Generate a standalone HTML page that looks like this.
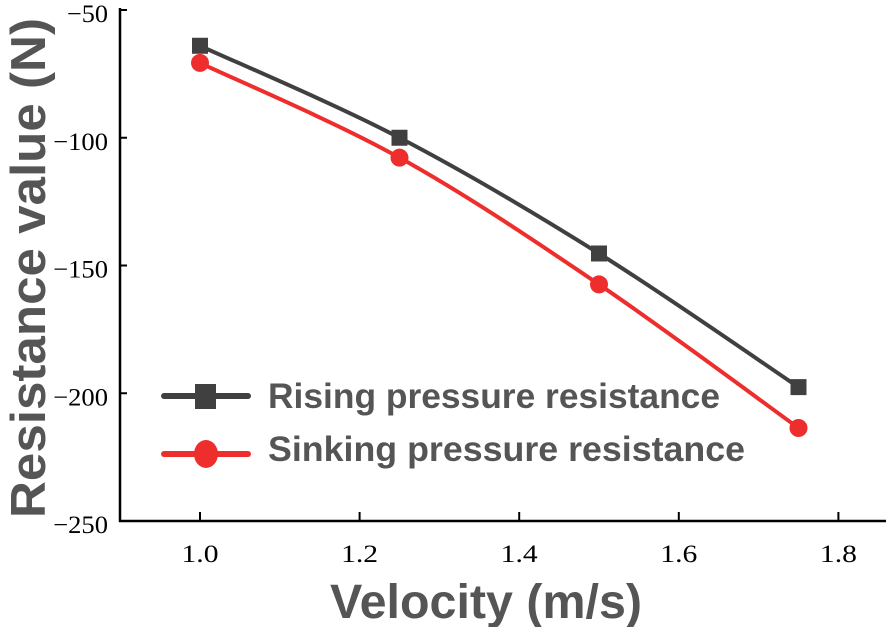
<!DOCTYPE html>
<html><head><meta charset="utf-8"><style>
body{margin:0;background:#fff}
svg{display:block}
</style></head><body>
<svg id="chart" width="886" height="627" xmlns="http://www.w3.org/2000/svg"></svg>
<script>
const velocities=[1.0,1.25,1.5,1.75];
const risingValues=[-64,-100,-145.3,-197.6];
const sinkingValues=[-70.7,-107.8,-157.4,-213.6];
const xTicks=[1.0,1.2,1.4,1.6,1.8];
const xTickLabels=["1.0","1.2","1.4","1.6","1.8"];
const yTicks=[-50,-100,-150,-200,-250];
const yTickLabels=["\u221250","\u2212100","\u2212150","\u2212200","\u2212250"];

const NS="http://www.w3.org/2000/svg";
const svg=document.getElementById('chart');
function xs(v){return 200+(v-1.0)*798;}
function ys(v){return 10+(-50-v)*511/200;}
function mk(tag,attrs,parent){const e=document.createElementNS(NS,tag);for(const k in attrs)e.setAttribute(k,attrs[k]);(parent||svg).appendChild(e);return e;}

const yAxis=mk('line',{x1:120,y1:8,x2:120,y2:522,stroke:'#000','stroke-width':2.5});


const xAxis=mk('line',{x1:119,y1:521,x2:886,y2:521,stroke:'#000','stroke-width':2.5});



yTicks.forEach((t,i)=>{
  const y=ys(t);
  const tk=mk('line',{x1:120,y1:y,x2:127,y2:y,stroke:'#000','stroke-width':2});
  
  
  const lab=yTickLabels[i];
  const tl=mk('text',{x:108,y:y+12,'text-anchor':'end','font-family':'Liberation Serif, serif','font-size':25,fill:'#000',textLength:lab.length*13.7,lengthAdjust:'spacingAndGlyphs'});
  tl.textContent=lab;
  
  
});
xTicks.forEach((t,i)=>{
  const x=xs(t);
  const tk=mk('line',{x1:x,y1:521,x2:x,y2:512,stroke:'#000','stroke-width':2});
  
  
  const tl=mk('text',{x:x,y:562,'text-anchor':'middle','font-family':'Liberation Serif, serif','font-size':25,fill:'#000',textLength:37,lengthAdjust:'spacingAndGlyphs'});
  tl.textContent=xTickLabels[i];
  
  
});

const xt=mk('text',{x:486,y:618,'text-anchor':'middle','font-family':'Liberation Sans, sans-serif','font-weight':'bold','font-size':48,fill:'#555',textLength:312,lengthAdjust:'spacingAndGlyphs'});
xt.textContent='Velocity (m/s)';


const yt=mk('text',{x:0,y:0,'text-anchor':'middle','font-family':'Liberation Sans, sans-serif','font-weight':'bold','font-size':49,transform:'translate(45,268) rotate(-90)',fill:'#555',textLength:500,lengthAdjust:'spacingAndGlyphs'});
yt.textContent='Resistance value (N)';



function smooth(pts){
  let d='M'+pts[0][0]+','+pts[0][1];
  for(let i=0;i<pts.length-1;i++){
    const p0=pts[i-1]||pts[i],p1=pts[i],p2=pts[i+1],p3=pts[i+2]||p2;
    const c1=[p1[0]+(p2[0]-p0[0])/6,p1[1]+(p2[1]-p0[1])/6];
    const c2=[p2[0]-(p3[0]-p1[0])/6,p2[1]-(p3[1]-p1[1])/6];
    d+=' C'+c1+' '+c2+' '+p2;
  }
  return d;
}
function series(vals,color,shape,name){
  const pts=velocities.map((v,i)=>[xs(v),ys(vals[i])]);
  const p=mk('path',{d:smooth(pts),fill:'none',stroke:color,'stroke-width':4});
  
  
  pts.forEach(pt=>{
    let m;
    if(shape==='square') m=mk('rect',{x:pt[0]-8,y:pt[1]-8,width:16,height:16,fill:color});
    else m=mk('circle',{cx:pt[0],cy:pt[1],r:9,fill:color});
    
    
  });
}
series(risingValues,'#404040','square','rising');
series(sinkingValues,'#ee2d2d','circle','sinking');

const lg=mk('g',{});


mk('line',{x1:164,y1:396,x2:248,y2:396,stroke:'#404040','stroke-width':6,'stroke-linecap':'round'},lg);
const m1=mk('rect',{x:195,y:384,width:21,height:25,fill:'#404040'},lg);


const t1=mk('text',{x:268,y:408,'font-family':'Liberation Sans, sans-serif','font-weight':'bold','font-size':35,fill:'#555',textLength:452,lengthAdjust:'spacingAndGlyphs'},lg);
t1.textContent='Rising pressure resistance';


mk('line',{x1:164,y1:454,x2:248,y2:454,stroke:'#ee2d2d','stroke-width':6,'stroke-linecap':'round'},lg);
const m2=mk('ellipse',{cx:206,cy:454,rx:12,ry:14,fill:'#ee2d2d'},lg);


const t2=mk('text',{x:268,y:461,'font-family':'Liberation Sans, sans-serif','font-weight':'bold','font-size':35,fill:'#555',textLength:477,lengthAdjust:'spacingAndGlyphs'},lg);
t2.textContent='Sinking pressure resistance';


</script>
</body></html>
